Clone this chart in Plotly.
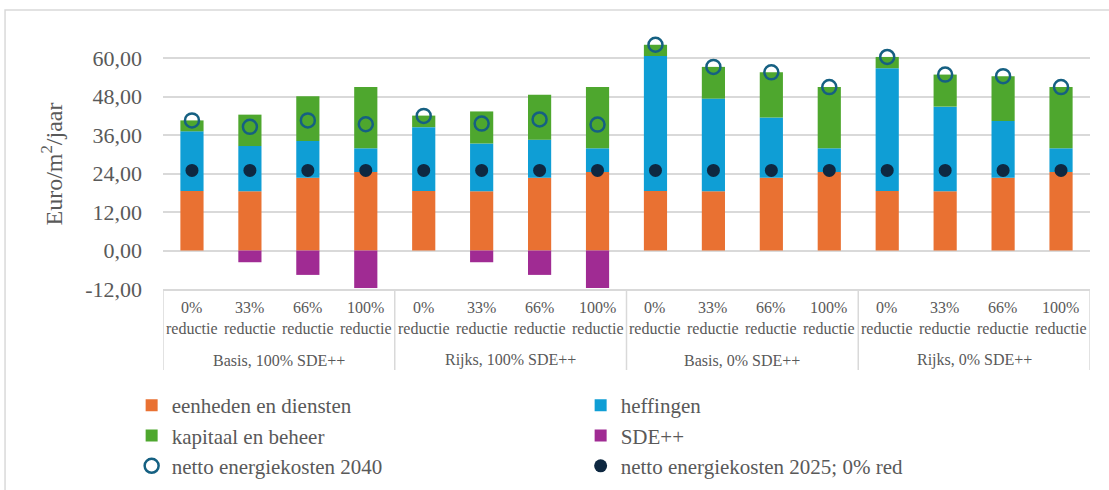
import plotly.graph_objects as go

# Scenario groups and reduction steps (x-axis, two levels)
groups = ["Basis, 100% SDE++", "Rijks, 100% SDE++", "Basis, 0% SDE++", "Rijks, 0% SDE++"]
steps = ["0%<br>reductie", "33%<br>reductie", "66%<br>reductie", "100%<br>reductie"]

# Cost components, Euro/m2/jaar, one value per (group, step)
eenheden_en_diensten = [18.6, 18.5, 22.7, 24.5,
                        18.6, 18.5, 22.7, 24.5,
                        18.6, 18.5, 22.7, 24.5,
                        18.6, 18.5, 22.7, 24.5]
heffingen = [18.6, 14.1, 11.5, 7.4,
             19.9, 14.9, 11.9, 7.4,
             42.1, 28.9, 18.8, 7.4,
             38.3, 26.4, 17.7, 7.4]
kapitaal_en_beheer = [3.4, 9.8, 13.9, 19.1,
                      3.6, 10.0, 14.0, 19.1,
                      3.5, 9.9, 14.1, 19.1,
                      3.5, 10.0, 14.0, 19.1]
sde = [0.0, -3.65, -7.6, -11.7,
       0.0, -3.65, -7.6, -11.7,
       0.0, 0.0, 0.0, 0.0,
       0.0, 0.0, 0.0, 0.0]
netto_2040 = [40.6, 38.6, 40.6, 39.4,
              42.0, 39.6, 40.9, 39.3,
              64.2, 57.3, 55.6, 51.0,
              60.4, 54.9, 54.4, 51.0]
netto_2025 = [25.0] * 16

# Value axis ticks
y_ticks = [-12, 0, 12, 24, 36, 48, 60]
y_tick_labels = ["-12,00", "0,00", "12,00", "24,00", "36,00", "48,00", "60,00"]

SERIF = '"Liberation Serif", "Times New Roman", serif'
GREY_TEXT = "#595959"
GRID = "#d9d9d9"

n_steps = len(steps)
xpos = list(range(len(groups) * n_steps))

fig = go.Figure()
bar_series = [
    ("eenheden en diensten", eenheden_en_diensten, "#E97132"),
    ("heffingen", heffingen, "#0F9ED5"),
    ("kapitaal en beheer", kapitaal_en_beheer, "#4EA72E"),
    ("SDE++", sde, "#A02B93"),
]
for name, vals, col in bar_series:
    fig.add_trace(go.Bar(x=xpos, y=vals, name=name, width=0.4,
                         marker=dict(color=col, line=dict(width=0))))

fig.add_trace(go.Scatter(x=xpos, y=netto_2040, name="netto energiekosten 2040",
                         mode="markers", cliponaxis=False,
                         marker=dict(symbol="circle-open", size=14,
                                     color="#156082", line=dict(width=2.5, color="#156082"))))
fig.add_trace(go.Scatter(x=xpos, y=netto_2025, name="netto energiekosten 2025; 0% red",
                         mode="markers", cliponaxis=False,
                         marker=dict(symbol="circle", size=13, color="#0E2841")))

# Inner category labels
for i, x in enumerate(xpos):
    fig.add_annotation(x=x, xref="x", y=-0.118, yref="paper", yanchor="middle",
                       text=steps[i % n_steps], showarrow=False,
                       font=dict(family=SERIF, size=16, color=GREY_TEXT))
# Outer group labels
for g, name in enumerate(groups):
    fig.add_annotation(x=g * n_steps + (n_steps - 1) / 2, xref="x", y=-0.284, yref="paper",
                       yanchor="middle", text=name, showarrow=False,
                       font=dict(family=SERIF, size=16, color=GREY_TEXT))
# Group dividers below the axis
for g in range(len(groups) + 1):
    xd = g * n_steps - 0.5
    fig.add_shape(type="line", xref="x", yref="paper", x0=xd, x1=xd, y0=0, y1=-0.324,
                  line=dict(color=GRID, width=1.5))

# Chart frame (top and left edges)
fig.add_shape(type="path", xref="paper", yref="paper",
              path="M -0.1704,-0.81 L -0.1704,1.116 L 1.03,1.116",
              line=dict(color=GRID, width=1.5))

fig.update_layout(
    width=1109, height=490,
    margin=dict(l=163, r=19, t=39, b=201),
    barmode="relative",
    plot_bgcolor="white", paper_bgcolor="white",
    font=dict(family=SERIF, color=GREY_TEXT),
    xaxis=dict(range=[-0.5, 15.5], showticklabels=False, showgrid=False,
               zeroline=False, showline=True, linecolor=GRID, linewidth=1.5),
    yaxis=dict(range=[-12, 66], tickvals=y_ticks, ticktext=y_tick_labels,
               showgrid=True, gridcolor=GRID, gridwidth=1.5, zeroline=False,
               tickfont=dict(family=SERIF, size=22, color=GREY_TEXT),
               ticklabelstandoff=20,
               title=dict(text="Euro/m<sup>2</sup>/jaar", standoff=15,
                          font=dict(family=SERIF, size=24, color=GREY_TEXT))),
    showlegend=True,
    legend=dict(orientation="h", xref="container", yref="container",
                x=0.1187, xanchor="left", y=0.2142, yanchor="top",
                entrywidth=404, entrywidthmode="pixels", traceorder="normal",
                itemwidth=30, tracegroupgap=0,
                font=dict(family=SERIF, size=21, color=GREY_TEXT),
                bgcolor="rgba(0,0,0,0)"),
)

fig.write_html("out.html")
